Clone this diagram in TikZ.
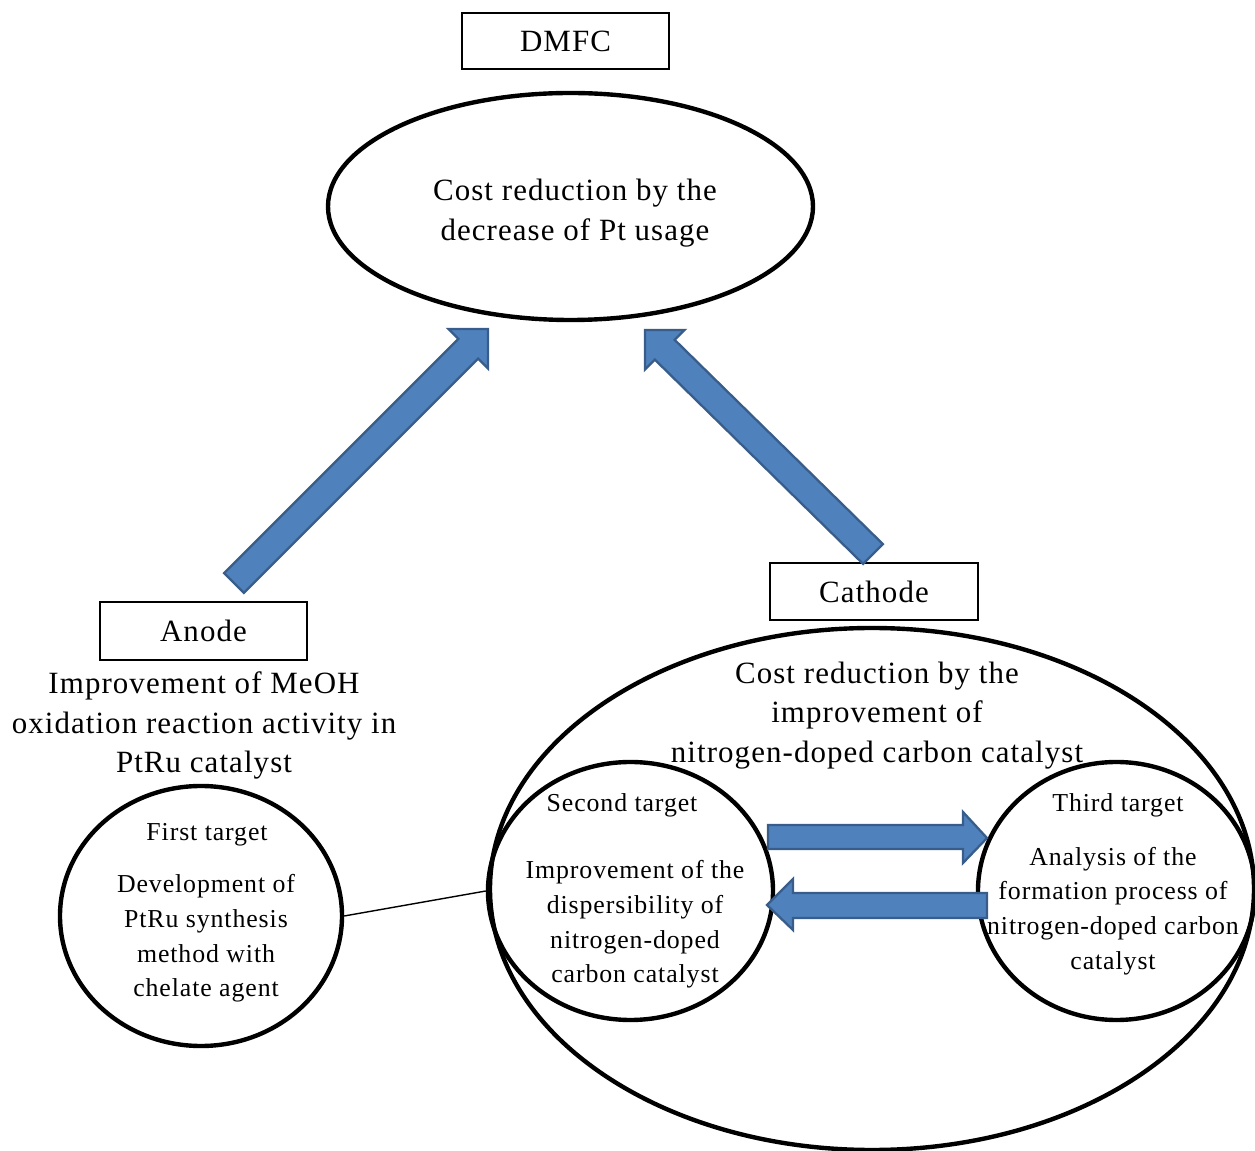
\documentclass[tikz,border=0pt]{standalone}
\usepackage{fontspec}
\setmainfont[LetterSpace=3.5]{Liberation Serif}
\usetikzlibrary{shapes.geometric}
\definecolor{afill}{HTML}{4F81BD}
\definecolor{aedge}{HTML}{385D8A}
\newcommand{\bigtxt}{\fontsize{17.6}{22.7}\selectfont}
\newcommand{\smalltxt}{\fontsize{14.7}{19.8}\selectfont}
\begin{document}
\begin{tikzpicture}[x=0.02cm,y=-0.02cm,
  oval/.style={draw,ellipse,line width=2.5pt,inner sep=0pt},
  labelbox/.style={draw,rectangle,line width=0.9pt,inner sep=0pt,font=\bigtxt},
  bigtext/.style={align=center,font=\bigtxt,inner sep=0pt},
  smalltext/.style={align=center,font=\smalltxt,inner sep=0pt},
  blockarrow/.style={fill=afill,draw=aedge,line width=1.3pt,line join=miter}]
\useasboundingbox (0,0) rectangle (1255,1151);
% boxes
\node[labelbox,minimum width={207*0.02cm},minimum height={56*0.02cm}] (dmfc) at (565.5,41) {DMFC};
\node[labelbox,minimum width={207*0.02cm},minimum height={58*0.02cm}] (anode) at (203.5,631) {Anode};
\node[labelbox,minimum width={208*0.02cm},minimum height={57*0.02cm}] (cathode) at (874,591.5) {Cathode};
% ellipses
\node[oval,minimum width={485*0.02cm},minimum height={227*0.02cm}] (top) at (570.5,206.5) {};
\node[oval,minimum width={282*0.02cm},minimum height={260*0.02cm}] (first) at (201,916) {};
\node[oval,minimum width={764*0.02cm},minimum height={522*0.02cm}] (big) at (872,889) {};
\node[oval,minimum width={285*0.02cm},minimum height={258*0.02cm}] (second) at (630.5,891) {};
\node[oval,minimum width={277*0.02cm},minimum height={258*0.02cm}] (third) at (1116.5,891) {};
% texts
\node[bigtext] (toptxt) at (575,213) {Cost reduction by the\\decrease of Pt usage};
\node[bigtext] (anodetxt) at (204,725.5) {Improvement of MeOH\\oxidation reaction activity in\\PtRu catalyst};
\node[bigtext] (cathtxt) at (877,715.5) {Cost reduction by the\\improvement of\\nitrogen-doped carbon catalyst};
\node[smalltext] (firsthead) at (207,834.5) {First target};
\node[smalltext] (firstbody) at (206,938.5) {Development of\\PtRu synthesis\\method with\\chelate agent};
\node[smalltext] (secondhead) at (622,805.5) {Second target};
\node[smalltext] (secondbody) at (635,924.5) {Improvement of the\\dispersibility of\\nitrogen-doped\\carbon catalyst};
\node[smalltext] (thirdhead) at (1118,805.5) {Third target};
\node[smalltext] (thirdbody) at (1113,911) {Analysis of the\\formation process of\\nitrogen-doped carbon\\catalyst};
% connector line
\draw[line width=0.8pt] (first.east) -- (second.west);
% diagonal block arrows
\draw[blockarrow] (243.9,592.9) -- (478.1,358.7) -- (488,368.6) -- (488,329) -- (448.4,329) -- (458.3,338.9) -- (224.1,573.1) -- cycle;
\draw[blockarrow] (882.9,544.1) -- (674.7,339.9) -- (684.6,330) -- (645,330) -- (645,369.6) -- (654.9,359.7) -- (863.1,563.9) -- cycle;
% horizontal block arrows
\draw[blockarrow] (768,825) -- (963,825) -- (963,812) -- (987,838) -- (963,863) -- (963,849) -- (768,849) -- cycle;
\draw[blockarrow] (987,893) -- (793,893) -- (793,879) -- (767,905) -- (793,930) -- (793,918) -- (987,918) -- cycle;
\end{tikzpicture}
\end{document}
